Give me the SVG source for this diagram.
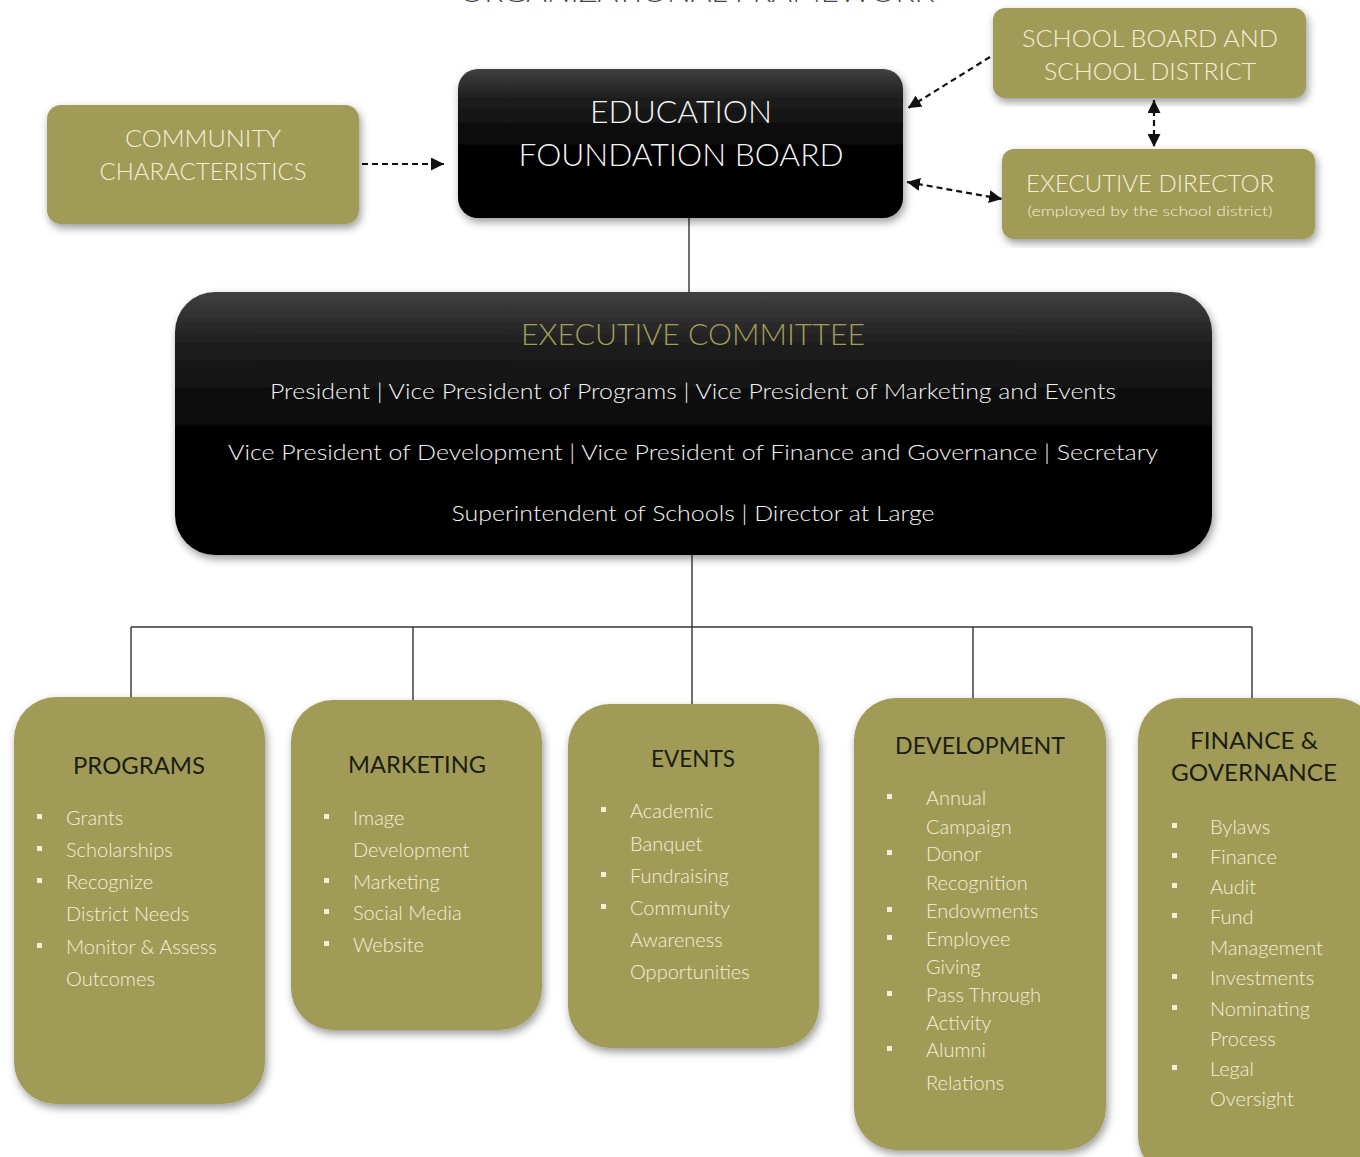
<svg xmlns="http://www.w3.org/2000/svg" width="1360" height="1157" viewBox="0 0 1360 1157">
<defs>
<style>
.olive{fill:#a09c58;}
.blk{fill:url(#bg);}
.t{font-family:Lato,"Liberation Sans","DejaVu Sans",sans-serif;font-weight:300;}
.cream{fill:#f3efd6;}
.white{fill:#f4f4f4;}
.dark{fill:#1d1d15;font-weight:400;}
.hd{font-size:24px;text-anchor:middle;}
.it{font-size:20px;}
.bul{fill:#f3efd6;}
.dash{fill:none;stroke:#111;stroke-width:2.2;stroke-dasharray:6 4;}
.solid{fill:none;stroke:#333;stroke-width:1.4;}
</style>
<linearGradient id="bg" x1="0" y1="0" x2="0" y2="1">
<stop offset="0" stop-color="#404040"/>
<stop offset="0.2" stop-color="#1e1e1e"/>
<stop offset="0.55" stop-color="#030303"/>
<stop offset="1" stop-color="#000"/>
</linearGradient>
<filter id="sh" x="-10%" y="-10%" width="120%" height="120%">
<feDropShadow dx="2" dy="4" stdDeviation="4" flood-color="#000" flood-opacity="0.4"/>
</filter>
<marker id="ah" viewBox="0 0 10 10" refX="10" refY="5" markerWidth="13" markerHeight="13" markerUnits="userSpaceOnUse" orient="auto-start-reverse">
<path d="M0,0 L10,5 L0,10 z" fill="#111"/>
</marker>
</defs>
<rect width="1360" height="1157" fill="#fff"/>

<text class="t" x="697" y="2" font-size="28" text-anchor="middle" fill="#444" textLength="475" lengthAdjust="spacingAndGlyphs">ORGANIZATIONAL FRAMEWORK</text>

<g id="connectors">
<line class="dash" x1="362" y1="164" x2="444" y2="164" marker-end="url(#ah)"/>
<line class="dash" x1="990" y1="57" x2="908" y2="108" marker-end="url(#ah)"/>
<line class="dash" x1="1154" y1="100" x2="1154" y2="147" marker-start="url(#ah)" marker-end="url(#ah)"/>
<line class="dash" x1="907" y1="182" x2="1002" y2="199" marker-start="url(#ah)" marker-end="url(#ah)"/>
<line class="solid" x1="689" y1="218" x2="689" y2="293"/>
<line class="solid" x1="692" y1="555" x2="692" y2="704"/>
<line class="solid" x1="131" y1="627" x2="1252" y2="627"/>
<line class="solid" x1="131" y1="627" x2="131" y2="698"/>
<line class="solid" x1="413" y1="627" x2="413" y2="700"/>
<line class="solid" x1="973" y1="627" x2="973" y2="698"/>
<line class="solid" x1="1252" y1="627" x2="1252" y2="698"/>
</g>

<g id="community">
<rect class="olive" x="47" y="105" width="312" height="119" rx="14" filter="url(#sh)"/>
<text class="t cream hd" x="203" y="147" textLength="156" lengthAdjust="spacingAndGlyphs">COMMUNITY</text>
<text class="t cream hd" x="203" y="180" textLength="207" lengthAdjust="spacingAndGlyphs">CHARACTERISTICS</text>
</g>

<g id="education-board">
<rect class="blk" x="458" y="69" width="445" height="149" rx="20" filter="url(#sh)"/>
<text class="t white" x="681" y="123" font-size="32" text-anchor="middle" textLength="182" lengthAdjust="spacingAndGlyphs">EDUCATION</text>
<text class="t white" x="681" y="166" font-size="32" text-anchor="middle" textLength="325" lengthAdjust="spacingAndGlyphs">FOUNDATION BOARD</text>
</g>

<g id="school-board">
<rect class="olive" x="993" y="8" width="313" height="90" rx="12" filter="url(#sh)"/>
<text class="t cream hd" x="1150" y="47" textLength="256" lengthAdjust="spacingAndGlyphs">SCHOOL BOARD AND</text>
<text class="t cream hd" x="1150" y="80" textLength="212" lengthAdjust="spacingAndGlyphs">SCHOOL DISTRICT</text>
</g>

<g id="executive-director">
<rect class="olive" x="1002" y="149" width="313" height="90" rx="12" filter="url(#sh)"/>
<text class="t cream hd" x="1150" y="192" textLength="248" lengthAdjust="spacingAndGlyphs">EXECUTIVE DIRECTOR</text>
<text class="t cream" x="1150" y="216" font-size="14" text-anchor="middle" textLength="245" lengthAdjust="spacingAndGlyphs">(employed by the school district)</text>
</g>

<g id="executive-committee">
<rect class="blk" x="175" y="292" width="1037" height="263" rx="40" filter="url(#sh)"/>
<text class="t" x="693" y="345" font-size="30" text-anchor="middle" fill="#a29e58" textLength="344" lengthAdjust="spacingAndGlyphs">EXECUTIVE COMMITTEE</text>
<text class="t white" x="693" y="399" font-size="22" text-anchor="middle" textLength="846" lengthAdjust="spacingAndGlyphs">President | Vice President of Programs | Vice President of Marketing and Events</text>
<text class="t white" x="693" y="460" font-size="22" text-anchor="middle" textLength="930" lengthAdjust="spacingAndGlyphs">Vice President of Development | Vice President of Finance and Governance | Secretary</text>
<text class="t white" x="693" y="521" font-size="22" text-anchor="middle" textLength="483" lengthAdjust="spacingAndGlyphs">Superintendent of Schools | Director at Large</text>
</g>

<g id="programs">
<rect class="olive" x="14" y="697" width="251" height="407" rx="42" filter="url(#sh)"/>
<text class="t dark hd" x="139" y="774" textLength="132" lengthAdjust="spacingAndGlyphs">PROGRAMS</text>
<g class="bul"><rect x="37" y="814" width="5" height="5"/><rect x="37" y="846" width="5" height="5"/><rect x="37" y="878" width="5" height="5"/><rect x="37" y="943" width="5" height="5"/></g>
<g class="t cream it">
<text x="66" y="825">Grants</text>
<text x="66" y="857">Scholarships</text>
<text x="66" y="889">Recognize</text>
<text x="66" y="921">District Needs</text>
<text x="66" y="954">Monitor &amp; Assess</text>
<text x="66" y="986">Outcomes</text>
</g>
</g>

<g id="marketing">
<rect class="olive" x="291" y="700" width="251" height="330" rx="42" filter="url(#sh)"/>
<text class="t dark hd" x="417" y="773" textLength="138" lengthAdjust="spacingAndGlyphs">MARKETING</text>
<g class="bul"><rect x="324" y="814" width="5" height="5"/><rect x="324" y="878" width="5" height="5"/><rect x="324" y="909" width="5" height="5"/><rect x="324" y="941" width="5" height="5"/></g>
<g class="t cream it">
<text x="353" y="825">Image</text>
<text x="353" y="857">Development</text>
<text x="353" y="889">Marketing</text>
<text x="353" y="920">Social Media</text>
<text x="353" y="952">Website</text>
</g>
</g>

<g id="events">
<rect class="olive" x="568" y="704" width="251" height="344" rx="42" filter="url(#sh)"/>
<text class="t dark hd" x="693" y="767" textLength="84" lengthAdjust="spacingAndGlyphs">EVENTS</text>
<g class="bul"><rect x="601" y="807" width="5" height="5"/><rect x="601" y="872" width="5" height="5"/><rect x="601" y="904" width="5" height="5"/></g>
<g class="t cream it">
<text x="630" y="818">Academic</text>
<text x="630" y="851">Banquet</text>
<text x="630" y="883">Fundraising</text>
<text x="630" y="915">Community</text>
<text x="630" y="947">Awareness</text>
<text x="630" y="979">Opportunities</text>
</g>
</g>

<g id="development">
<rect class="olive" x="854" y="698" width="252" height="452" rx="42" filter="url(#sh)"/>
<text class="t dark hd" x="980" y="754" textLength="170" lengthAdjust="spacingAndGlyphs">DEVELOPMENT</text>
<g class="bul"><rect x="887" y="794" width="5" height="5"/><rect x="887" y="850" width="5" height="5"/><rect x="887" y="907" width="5" height="5"/><rect x="887" y="935" width="5" height="5"/><rect x="887" y="991" width="5" height="5"/><rect x="887" y="1046" width="5" height="5"/></g>
<g class="t cream it">
<text x="926" y="805">Annual</text>
<text x="926" y="834">Campaign</text>
<text x="926" y="861">Donor</text>
<text x="926" y="890">Recognition</text>
<text x="926" y="918">Endowments</text>
<text x="926" y="946">Employee</text>
<text x="926" y="974">Giving</text>
<text x="926" y="1002">Pass Through</text>
<text x="926" y="1030">Activity</text>
<text x="926" y="1057">Alumni</text>
<text x="926" y="1090">Relations</text>
</g>
</g>

<g id="finance-governance">
<rect class="olive" x="1138" y="698" width="240" height="480" rx="42" filter="url(#sh)"/>
<text class="t dark hd" x="1254" y="749" textLength="128" lengthAdjust="spacingAndGlyphs">FINANCE &amp;</text>
<text class="t dark hd" x="1254" y="781" textLength="166" lengthAdjust="spacingAndGlyphs">GOVERNANCE</text>
<g class="bul"><rect x="1172" y="823" width="5" height="5"/><rect x="1172" y="853" width="5" height="5"/><rect x="1172" y="883" width="5" height="5"/><rect x="1172" y="913" width="5" height="5"/><rect x="1172" y="974" width="5" height="5"/><rect x="1172" y="1005" width="5" height="5"/><rect x="1172" y="1065" width="5" height="5"/></g>
<g class="t cream it">
<text x="1210" y="834">Bylaws</text>
<text x="1210" y="864">Finance</text>
<text x="1210" y="894">Audit</text>
<text x="1210" y="924">Fund</text>
<text x="1210" y="955">Management</text>
<text x="1210" y="985">Investments</text>
<text x="1210" y="1016">Nominating</text>
<text x="1210" y="1046">Process</text>
<text x="1210" y="1076">Legal</text>
<text x="1210" y="1106">Oversight</text>
</g>
</g>
</svg>
